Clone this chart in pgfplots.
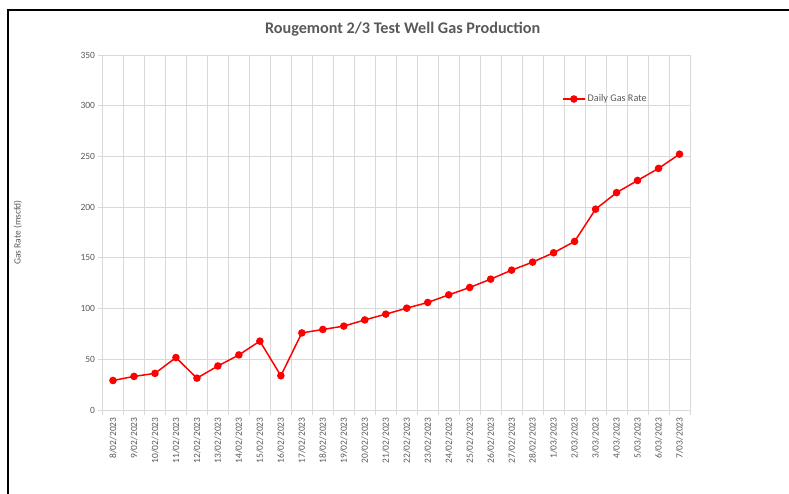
\documentclass[border=0pt]{standalone}
\usepackage{pgfplots}
\pgfplotsset{compat=1.18}
\usepackage{fontspec}
\setmainfont{Carlito}
\definecolor{txtgray}{HTML}{595959}
\definecolor{gridgray}{HTML}{D9D9D9}
\begin{document}
\begin{tikzpicture}[x=1pt,y=1pt]
\useasboundingbox (-102.5,-84) rectangle (686.5,410);
\draw[black, line width=1.3pt] (-94.5,-84) -- (-94.5,400) -- (686.5,400);
\begin{axis}[
  at={(0pt,0pt)}, anchor=south west,
  scale only axis, width=587.5pt, height=355pt,
  xmin=-0.5, xmax=27.5, ymin=0, ymax=350,
  ytick={0,50,...,350},
  xtick={0,...,27},
  xticklabels={8/02/2023,9/02/2023,10/02/2023,11/02/2023,12/02/2023,13/02/2023,14/02/2023,15/02/2023,16/02/2023,17/02/2023,18/02/2023,19/02/2023,20/02/2023,21/02/2023,22/02/2023,23/02/2023,24/02/2023,25/02/2023,26/02/2023,27/02/2023,28/02/2023,1/03/2023,2/03/2023,3/03/2023,4/03/2023,5/03/2023,6/03/2023,7/03/2023},
  minor xtick={-0.5,0.5,...,27.5},
  x tick label style={rotate=90, anchor=east, font=\fontsize{9.5}{11}\selectfont, text=txtgray},
  y tick label style={font=\fontsize{9.5}{11}\selectfont, text=txtgray},
  /pgf/number format/assume math mode=true,
  tick align=outside,
  major x tick style={draw=none},
  major tick length=4pt, minor tick length=5pt,
  tick style={gridgray, line width=0.8pt},
  xminorgrids=true, xmajorgrids=false, ymajorgrids=true,
  grid style={gridgray, line width=0.8pt},
  minor grid style={gridgray, line width=0.8pt},
  axis line style={gridgray, line width=0.8pt},
  axis x line*=bottom, axis y line*=left,
  title={\textbf{Rougemont 2/3 Test Well Gas Production}},
  title style={font=\fontsize{16.2}{18}\selectfont, text=txtgray, at={(axis description cs:0.511,1.056)}, anchor=center},
  ylabel={Gas Rate (mscfd)},
  ylabel style={font=\fontsize{9.5}{11}\selectfont, text=txtgray, at={(axis description cs:-0.144,0.5)}, anchor=center},
  legend style={draw=none, fill=none, at={(axis description cs:0.782,0.876)}, anchor=west, font=\fontsize{10.2}{12}\selectfont, text=txtgray, inner sep=0pt},
  legend image code/.code={
    \draw[red, line width=1.5pt] (0pt,0pt) -- (22pt,0pt);
    \fill[red] (11pt,0pt) circle (3pt);
  },
  legend cell align=left,
]
\addplot[red, line width=1.5pt, mark=*, mark size=3pt, mark options={fill=red, draw=red}] coordinates {
(0,29.1) (1,33.1) (2,36.1) (3,51.7) (4,31.4) (5,43.4) (6,54.3) (7,67.9)
(8,33.8) (9,76) (10,79.4) (11,82.7) (12,88.8) (13,94.5) (14,100.4) (15,106)
(16,113.5) (17,120.8) (18,129) (19,137.9) (20,145.8) (21,155) (22,166.2)
(23,198) (24,214.3) (25,226.3) (26,238.2) (27,252.2)
};
\addlegendentry{Daily Gas Rate}
\end{axis}
\end{tikzpicture}
\end{document}
